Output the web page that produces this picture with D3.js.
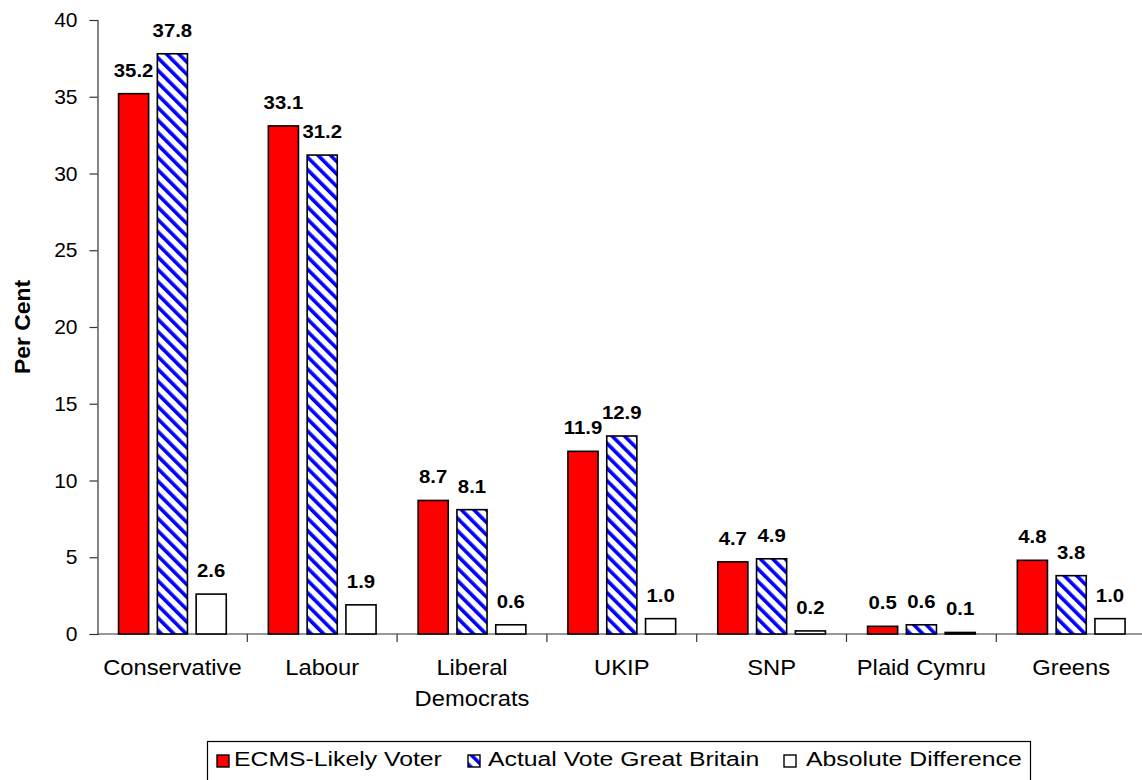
<!DOCTYPE html>
<html>
<head>
<meta charset="utf-8">
<script src="https://cdnjs.cloudflare.com/ajax/libs/d3/7.8.5/d3.min.js"></script>
<style>
  html, body { margin: 0; padding: 0; background: #fff; }
  svg { display: block; font-family: "Liberation Sans", Arial, sans-serif; }
</style>
</head>
<body>
<svg id="chart" width="1142" height="780"></svg>
<script>
// ---- data ----
const categories = ["Conservative", "Labour", "Liberal Democrats", "UKIP", "SNP", "Plaid Cymru", "Greens"];
const categoryLines = [["Conservative"], ["Labour"], ["Liberal", "Democrats"], ["UKIP"], ["SNP"], ["Plaid Cymru"], ["Greens"]];
const seriesNames = ["ECMS-Likely Voter", "Actual Vote Great Britain", "Absolute Difference"];
const ecmsLikelyVoter = [35.2, 33.1, 8.7, 11.9, 4.7, 0.5, 4.8];
const actualVoteGB = [37.8, 31.2, 8.1, 12.9, 4.9, 0.6, 3.8];
const absoluteDifference = [2.6, 1.9, 0.6, 1.0, 0.2, 0.1, 1.0];
const yTicks = [0, 5, 10, 15, 20, 25, 30, 35, 40];
const yTitle = "Per Cent";

const seriesValues = [ecmsLikelyVoter, actualVoteGB, absoluteDifference];

// ---- layout ----
const svg = d3.select("#chart");
const plotLeft = 97.5, step = 149.8;
const plotTop = 20, plotBottom = 634;

const x0 = d3.scaleBand().domain(categories)
  .range([plotLeft, plotLeft + step * categories.length])
  .paddingInner(0).paddingOuter(0);
const x1 = d3.scaleBand().domain(seriesNames)
  .range([0, x0.bandwidth()])
  .paddingInner(0.224).paddingOuter(0.5425);
const y = d3.scaleLinear().domain([0, 40]).range([plotBottom, plotTop]);

// hatch pattern
const defs = svg.append("defs");
const pat = defs.append("pattern")
  .attr("id", "hatch")
  .attr("patternUnits", "userSpaceOnUse")
  .attr("width", 8.8).attr("height", 8.8)
  .attr("patternTransform", "rotate(-45)");
pat.append("rect").attr("width", 8.8).attr("height", 8.8).attr("fill", "#fff");
pat.append("rect").attr("x", 0).attr("width", 3.6).attr("height", 8.8).attr("fill", "#0000ff");

const fills = ["#ff0000", "url(#hatch)", "#ffffff"];

// y axis
const yAxis = d3.axisLeft(y).tickValues(yTicks).tickSize(8).tickPadding(12);
const gy = svg.append("g").attr("transform", `translate(${plotLeft},0)`).call(yAxis);
gy.select(".domain").attr("stroke", "#333").attr("stroke-width", 1.2);
gy.selectAll(".tick line").attr("stroke", "#333").attr("stroke-width", 1.2);
gy.selectAll(".tick text")
  .attr("font-size", 21).attr("fill", "#000")
  .attr("font-family", "Liberation Sans, Arial, sans-serif");

// x axis baseline + boundary ticks
svg.append("line")
  .attr("x1", plotLeft).attr("x2", 1142)
  .attr("y1", y(0)).attr("y2", y(0))
  .attr("stroke", "#333").attr("stroke-width", 1.2);
svg.append("g").selectAll("line")
  .data(categories.slice(1))
  .join("line")
  .attr("x1", d => x0(d)).attr("x2", d => x0(d))
  .attr("y1", y(0)).attr("y2", y(0) + 8)
  .attr("stroke", "#333").attr("stroke-width", 1.2);

// bars
const groups = svg.append("g").selectAll("g")
  .data(categories)
  .join("g")
  .attr("transform", d => `translate(${x0(d)},0)`);

groups.each(function(cat, ci) {
  const g = d3.select(this);
  seriesNames.forEach((s, si) => {
    const v = seriesValues[si][ci];
    g.append("rect")
      .attr("x", x1(s))
      .attr("y", y(v))
      .attr("width", x1.bandwidth())
      .attr("height", y(0) - y(v))
      .attr("fill", fills[si])
      .attr("stroke", "#000")
      .attr("stroke-width", 1.6);
    g.append("g")
      .attr("transform", `translate(${x1(s) + x1.bandwidth() / 2},${y(v) - 17}) scale(1.1,1)`)
      .append("text")
      .attr("text-anchor", "middle")
      .attr("font-size", 18.5)
      .attr("font-weight", "bold")
      .text(d3.format(".1f")(v));
  });
});

// category labels
svg.append("g").selectAll("g")
  .data(categories)
  .join("g")
  .attr("transform", d => `translate(${x0(d) + x0.bandwidth() / 2},675) scale(1.08,1)`)
  .each(function(d, i) {
    const t = d3.select(this).append("text")
      .attr("text-anchor", "middle")
      .attr("font-size", 22);
    categoryLines[i].forEach((ln, li) => {
      t.append("tspan").attr("x", 0).attr("dy", li === 0 ? 0 : 31.5).text(ln);
    });
  });

// y title
svg.append("g")
  .attr("transform", `translate(29.5,${(plotTop + plotBottom) / 2}) rotate(-90) scale(1.04,1)`)
  .append("text")
  .attr("text-anchor", "middle")
  .attr("font-size", 22)
  .attr("font-weight", "bold")
  .text(yTitle);

// legend
const legend = svg.append("g");
legend.append("rect")
  .attr("x", 207.5).attr("y", 741.5)
  .attr("width", 823).attr("height", 60)
  .attr("fill", "#fff").attr("stroke", "#000").attr("stroke-width", 1.2);

const legendMarkerX = [217, 468, 784];
const legendTextX = [234, 488, 806];
seriesNames.forEach((s, i) => {
  legend.append("rect")
    .attr("x", legendMarkerX[i]).attr("y", 755)
    .attr("width", 12).attr("height", 12)
    .attr("fill", fills[i])
    .attr("stroke", "#000").attr("stroke-width", 1.4);
  legend.append("g")
    .attr("transform", `translate(${legendTextX[i]},766) scale(1.18,1)`)
    .append("text")
    .attr("font-size", 21)
    .text(s);
});
</script>
</body>
</html>
